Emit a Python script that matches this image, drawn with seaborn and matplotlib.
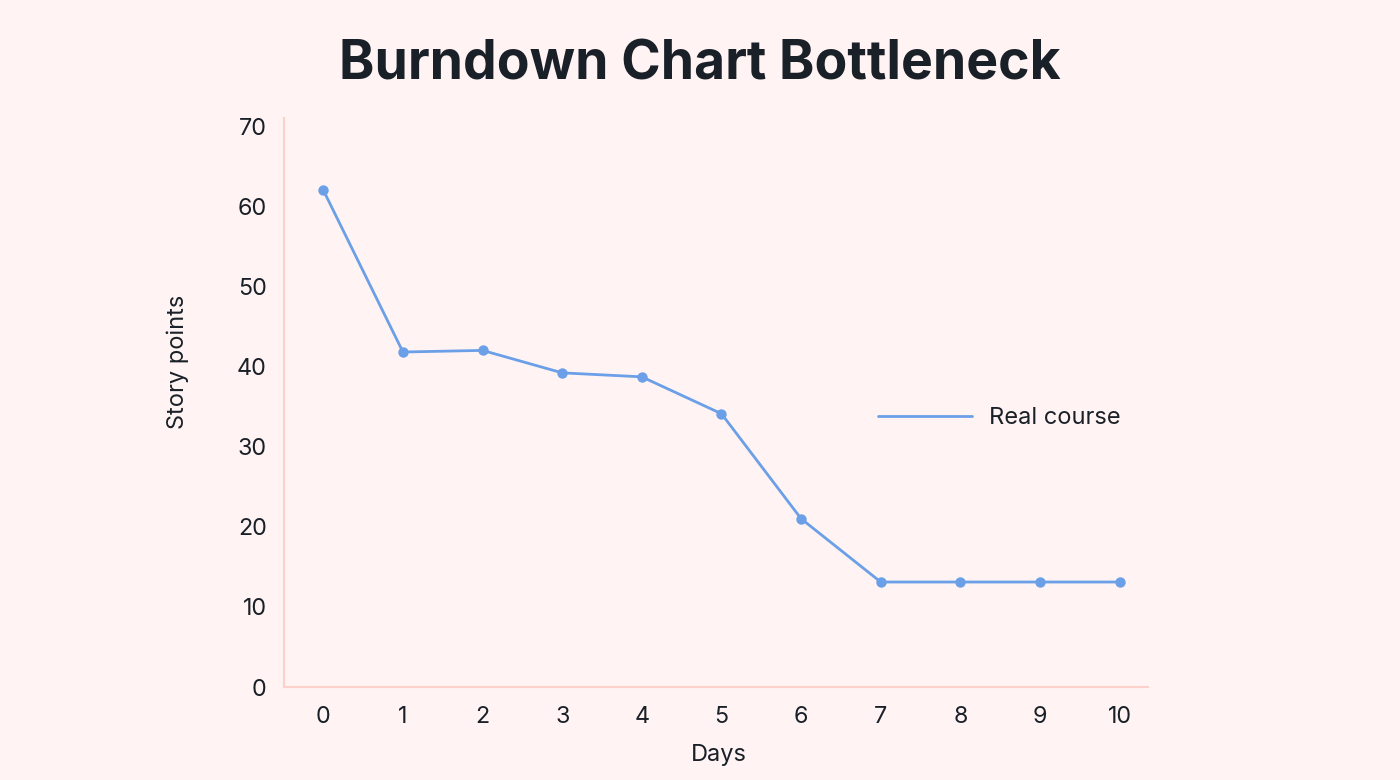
import pandas as pd
import matplotlib.pyplot as plt
import seaborn as sns

# Burndown data
days = [0, 1, 2, 3, 4, 5, 6, 7, 8, 9, 10]
story_points = [62, 41.8, 42, 39.2, 38.7, 34.1, 21, 13.1, 13.1, 13.1, 13.1]
y_ticks = [0, 10, 20, 30, 40, 50, 60, 70]

BG = '#fff4f3'
LINE = '#6b9fe7'
TEXT = '#1a2028'
SPINE = '#fdd0cb'

sns.set_theme(style='white')
plt.rcParams['font.family'] = ['Inter', 'DejaVu Sans']
plt.rcParams['text.color'] = TEXT
plt.rcParams['axes.labelcolor'] = TEXT
plt.rcParams['xtick.color'] = TEXT
plt.rcParams['ytick.color'] = TEXT

df = pd.DataFrame({'Days': days, 'Story points': story_points})

fig = plt.figure(figsize=(14, 7.8), dpi=100, facecolor=BG)
ax = fig.add_axes([283.5 / 1400, 1 - 687 / 780, 864 / 1400, 569 / 780])
ax.set_facecolor(BG)

sns.lineplot(data=df, x='Days', y='Story points', ax=ax, color=LINE,
             linewidth=2, marker='o', markersize=7.5, markeredgewidth=0,
             label='Real course')

ax.set_xlim(-0.5, 10.35)
ax.set_ylim(0, 71)
ax.set_xticks(days)
ax.set_yticks(y_ticks)
ax.tick_params(axis='x', length=0, pad=13.5, labelsize=16.8)
ax.tick_params(axis='y', length=0, pad=12, labelsize=16.8)

for side in ['top', 'right']:
    ax.spines[side].set_visible(False)
for side in ['left', 'bottom']:
    ax.spines[side].set_color(SPINE)
    ax.spines[side].set_linewidth(1.5)

ax.set_xlabel('Days', fontsize=17)
ax.set_ylabel('Story points', fontsize=17)
ax.xaxis.set_label_coords((719 - 283.5) / 864, (687 - 744) / 569)
ax.yaxis.set_label_coords((189 - 283.5) / 864, (687 - 362) / 569)

leg = ax.legend(loc='center left', bbox_to_anchor=(878 / 1400, 1 - 418 / 780),
                bbox_transform=fig.transFigure, frameon=False, fontsize=17,
                handlelength=4.0, handletextpad=0.7, borderpad=0, borderaxespad=0)
for h in leg.legend_handles:
    h.set_marker('')
    h.set_linewidth(2)

fig.text(0.5, 1 - 80 / 780, 'Burndown Chart Bottleneck', ha='center', va='baseline',
         fontsize=38.5, fontweight='bold', color=TEXT)

fig.savefig('out.png', dpi=100, facecolor=BG)
